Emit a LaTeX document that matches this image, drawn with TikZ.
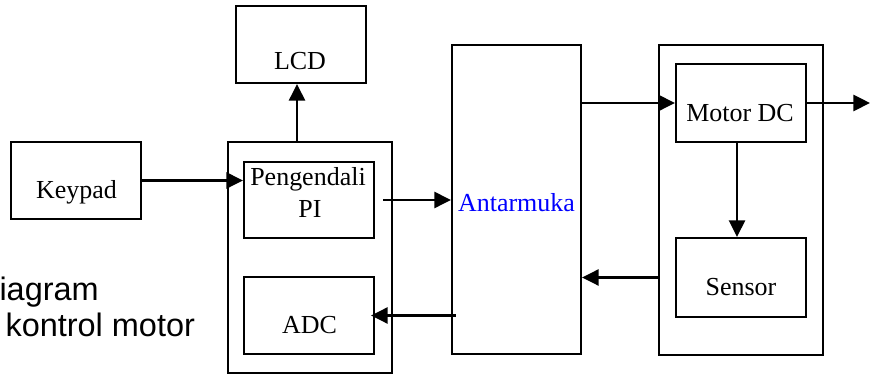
\documentclass[tikz,border=0pt]{standalone}
\usepackage{fontspec}
\setmainfont{Liberation Serif}
\newfontfamily\judulfont{Liberation Sans}
\usetikzlibrary{arrows.meta, positioning, calc}
\def\u{0.385pt}
\tikzset{
  %% -- block box --
  blok/.style={draw, line width=0.8pt, inner sep=0pt,
    minimum width=130*\u, minimum height=77*\u},
  %% -- group box --
  grup/.style={draw, line width=0.8pt, inner sep=0pt},
  %% -- block text --
  teks/.style={font=\fontsize{10}{11.5}\selectfont, anchor=base, inner sep=0pt},
  %% -- caption text --
  judul/.style={font=\judulfont\fontsize{12.5}{14}\selectfont, anchor=base west, inner sep=0pt},
  %% -- signal arrow --
  sinyal/.style={-{Triangle[length=6.4pt, width=6.2pt]}, line width=0.85pt},
}
\begin{document}
\begin{tikzpicture}[x=\u, y=-\u]
\useasboundingbox (0,0) rectangle (870,378);

%% Group boxes
\node[grup, minimum width=164*\u, minimum height=231*\u] (pengendali) at (310,257.5) {};
\node[grup, minimum width=129*\u, minimum height=309*\u] (antarmuka)  at (516.5,199.5) {};
\node[grup, minimum width=164*\u, minimum height=310*\u] (aktuator)   at (741,200) {};

%% Blocks
\node[blok] (keypad) at (76,180.5) {};
\node[blok] (lcd)    at (301,44.5) {};
\node[blok, minimum height=76*\u] (pi) at (309,200) {};
\node[blok] (adc)    at (309,315.5) {};
\node[blok, minimum height=78*\u] (motor)  at (741,103) {};
\node[blok, minimum height=79*\u] (sensor) at (741,277.5) {};

%% Texts
\node[teks] (keypadT) at (76.5,199) {Keypad};
\node[teks] (lcdT)    at (300,70)   {LCD};
\node[teks] (piT1)    at (308,186)  {Pengendali};
\node[teks] (piT2)    at (310,218)  {PI};
\node[teks] (adcT)    at (309.5,334) {ADC};
\node[teks, text=blue] (antarmukaT) at (516.5,212) {Antarmuka};
\node[teks] (motorT)  at (740,122)  {Motor DC};
\node[teks] (sensorT) at (741,296)  {Sensor};

%% Caption
\node[judul] (judul1) at (-1,301) {iagram};
\node[judul] (judul2) at (5,337)  {kontrol motor};

%% Signals
\coordinate (keluar) at (870,103);
\draw[sinyal] (keypad.east) -- (keypad.east -| pi.west);
\draw[sinyal] ([xshift=-4*\u]lcd.south |- pengendali.north) -- ([xshift=-4*\u]lcd.south);
\draw[sinyal] ([xshift=8*\u]pi.east) -- (pi.east -| antarmuka.west);
\draw[sinyal] ([xshift=5*\u]antarmuka.west |- adc.east) -- ([xshift=-4*\u]adc.east);
\draw[sinyal] (antarmuka.east |- motor.west) -- (motor.west);
\draw[sinyal] (motor.east) -- (keluar);
\draw[sinyal] ([xshift=-4*\u]motor.south) -- ([xshift=-4*\u]sensor.north);
\draw[sinyal] (aktuator.west |- sensor.west) -- (antarmuka.east |- sensor.west);
\end{tikzpicture}
\end{document}
